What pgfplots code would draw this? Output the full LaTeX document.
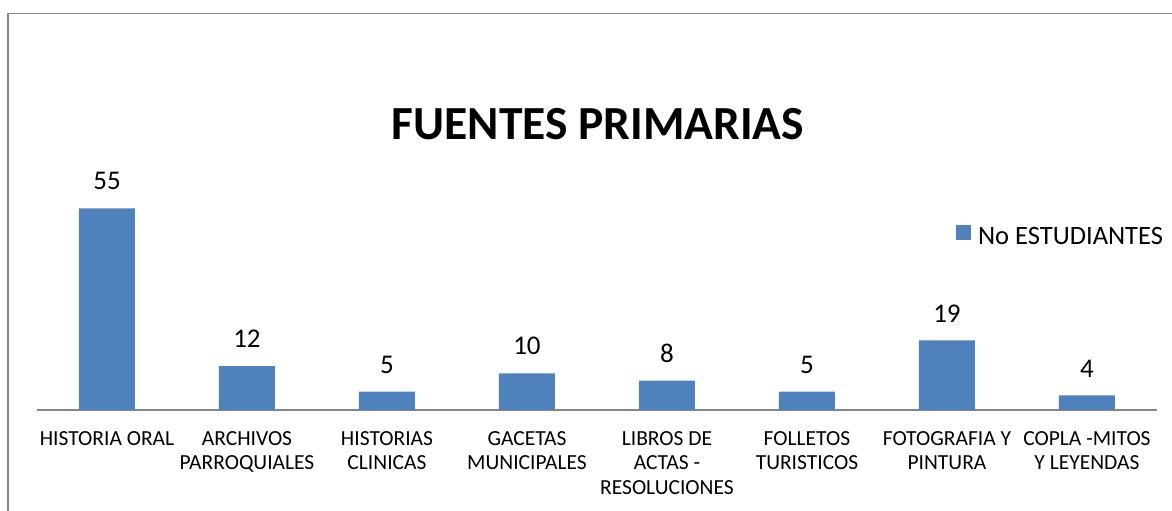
\documentclass[border=0pt]{standalone}
\usepackage{fontspec}
\setmainfont{Carlito}
\usepackage{pgfplots}
\pgfplotsset{compat=1.18}
\definecolor{barblue}{HTML}{4F81BD}
\definecolor{framegray}{HTML}{868686}
\begin{document}
\begin{tikzpicture}
\useasboundingbox (0,0) rectangle (1172bp,511bp);
\fill[white] (0,0) rectangle (1172bp,511bp);
\draw[framegray, line width=1.8bp] (8bp,-2bp) -- (8bp,497.5bp) -- (1175bp,497.5bp);
\node[anchor=base, font=\fontsize{47.5bp}{52bp}\selectfont\bfseries, inner sep=0] at (598bp,371bp) {FUENTES PRIMARIAS};
\begin{axis}[
  at={(37bp,101bp)}, anchor=south west,
  scale only axis, width=1120bp, height=220bp,
  ymin=0, ymax=60, xmin=-0.5, xmax=7.5,
  axis y line=none,
  axis x line*=bottom,
  x axis line style={draw=framegray, line width=1.5bp, -},
  major tick length=0pt,
  xtick={0,...,7},
  xticklabels={HISTORIA ORAL, ARCHIVOS\\PARROQUIALES, HISTORIAS\\CLINICAS, GACETAS\\MUNICIPALES, LIBROS DE\\ACTAS -\\RESOLUCIONES, FOLLETOS\\TURISTICOS, FOTOGRAFIA Y\\PINTURA, COPLA -MITOS\\Y LEYENDAS},
  xticklabel style={font=\fontsize{21.5bp}{24.5bp}\selectfont, align=center, anchor=north, inner sep=0pt, yshift=-21bp},
  /pgf/number format/assume math mode=true,
  ybar, bar width=56bp,
  nodes near coords,
  nodes near coords style={font=\fontsize{27bp}{30bp}\selectfont, anchor=south, inner sep=0pt, yshift=18bp},
  legend style={at={(0.8205,0.793)}, anchor=west, draw=none, fill=none, inner sep=0pt,
    nodes={inner sep=0pt}, column sep=7bp,
    font=\fontsize{26.5bp}{30bp}\selectfont},
  legend image code/.code={\fill[barblue] (0bp,-3bp) rectangle (15bp,12bp);},
  clip=false,
]
\addplot[fill=barblue, draw=none] coordinates {(0,55) (1,12) (2,5) (3,10) (4,8) (5,5) (6,19) (7,4)};
\addlegendentry{No ESTUDIANTES}
\end{axis}
\end{tikzpicture}
\end{document}
